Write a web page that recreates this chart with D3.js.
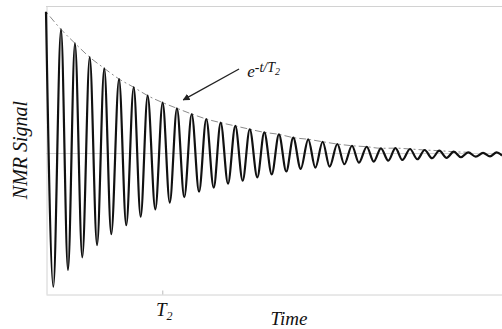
<!DOCTYPE html>
<html>
<head>
<meta charset="utf-8">
<script src="https://cdn.jsdelivr.net/npm/d3@7"></script>
<style>
  body { margin: 0; background: #fff; }
  svg text { font-family: "Liberation Serif", "Times New Roman", Times, "DejaVu Serif", "Noto Serif", serif; font-style: italic; fill: #111; }
</style>
</head>
<body>
<script>
// time in units of T2, signal normalised to the first peak
var extremaT = [0, 0.063, 0.129, 0.189, 0.249, 0.312, 0.376, 0.439, 0.501, 0.561,
  0.628, 0.690, 0.754, 0.814, 0.874, 0.940, 1.003, 1.064, 1.126, 1.189,
  1.253, 1.316, 1.378, 1.442, 1.502, 1.565, 1.628, 1.691, 1.752, 1.817,
  1.877, 1.941, 2.003, 2.066, 2.126, 2.190, 2.255, 2.316, 2.379, 2.439,
  2.505, 2.565, 2.631, 2.691, 2.758, 2.818, 2.880, 2.943, 3.005, 3.064,
  3.130, 3.193, 3.256, 3.319, 3.382, 3.445, 3.506, 3.568, 3.631, 3.695,
  3.758, 3.818, 3.875, 3.921];
var extremaV = [1.000, -0.933, 0.876, -0.815, 0.778, -0.726, 0.680, -0.640, 0.602, -0.564,
  0.527, -0.501, 0.469, -0.441, 0.410, -0.389, 0.361, -0.342, 0.321, -0.304,
  0.281, -0.265, 0.246, -0.237, 0.220, -0.209, 0.197, -0.188, 0.174, -0.164,
  0.152, -0.143, 0.138, -0.123, 0.115, -0.105, 0.103, -0.096, 0.086, -0.089,
  0.070, -0.072, 0.058, -0.061, 0.051, -0.054, 0.040, -0.047, 0.041, -0.042,
  0.035, -0.037, 0.028, -0.030, 0.023, -0.027, 0.016, -0.023, 0.012, -0.019,
  0.008, -0.017, 0.011, -0.011];
var tickT = [1];
var tickLabels = ['T', '2'];
var xTitle = 'Time';
var yTitle = 'NMR Signal';
var envLabel = ['e', '-t/T', '2'];
// envelope annotation: arrow tail/head and label anchor (data units)
var arrowFrom = [1.66, 0.597];
var arrowTo = [1.18, 0.38];
var labelAt = [1.73, 0.54];

var width = 502, height = 329;
var plotLeft = 46, plotRight = 502, plotTop = 6, plotBottom = 294;

var svg = d3.select('body').append('svg')
  .attr('width', width)
  .attr('height', height);

var x = d3.scaleLinear().domain([0, 3.921]).range([plotLeft, plotRight]);
var y = d3.scaleLinear().domain([-0.984, 1.040]).range([plotBottom, plotTop]);

var points = extremaT.map(function (t, i) { return [t, extremaV[i]]; });
// envelope runs through the positive peaks
var peaks = points.filter(function (p, i) { return i % 2 === 0 && p[0] < 3.7 && i < points.length - 1; });

var grey = '#d2d2d2';
var serif = '"Liberation Serif", "Times New Roman", Times, "DejaVu Serif", serif';

// frame
svg.append('line')
  .attr('x1', plotLeft).attr('x2', plotRight)
  .attr('y1', plotTop + 0.5).attr('y2', plotTop + 0.5)
  .attr('stroke', grey);

svg.append('g')
  .attr('transform', 'translate(0,' + (plotBottom + 0.5) + ')')
  .call(d3.axisBottom(x).tickValues(tickT).tickSize(-4).tickSizeOuter(0).tickFormat(''))
  .call(function (g) {
    g.select('.domain').attr('stroke', grey);
    g.selectAll('.tick line').attr('stroke', '#bbb');
  });

svg.append('g')
  .attr('transform', 'translate(' + (plotLeft + 0.5) + ',0)')
  .call(d3.axisLeft(y).tickValues([]).tickSizeOuter(0))
  .call(function (g) { g.select('.domain').attr('stroke', grey); });

// zero line
svg.append('line')
  .attr('x1', plotLeft).attr('x2', plotRight)
  .attr('y1', Math.round(y(0)) - 0.5).attr('y2', Math.round(y(0)) - 0.5)
  .attr('stroke', grey);

// envelope
svg.append('path')
  .datum(peaks)
  .attr('fill', 'none')
  .attr('stroke', '#8a8a8a')
  .attr('stroke-width', 1)
  .attr('stroke-dasharray', '7,3,2,3')
  .attr('stroke-dashoffset', -6)
  .attr('d', d3.line()
    .x(function (d) { return x(d[0]); })
    .y(function (d) { return y(d[1]); })
    .curve(d3.curveMonotoneX));

// signal
svg.append('path')
  .datum(points)
  .attr('fill', 'none')
  .attr('stroke', '#111')
  .attr('stroke-width', 2.2)
  .attr('stroke-linejoin', 'round')
  .attr('d', d3.line()
    .x(function (d) { return x(d[0]); })
    .y(function (d) { return y(d[1]); })
    .curve(d3.curveMonotoneX));

// arrow
svg.append('defs').append('marker')
  .attr('id', 'head')
  .attr('viewBox', '0 0 10 10')
  .attr('refX', 9).attr('refY', 5)
  .attr('markerWidth', 7).attr('markerHeight', 7)
  .attr('markerUnits', 'userSpaceOnUse')
  .attr('orient', 'auto')
  .append('path')
  .attr('d', 'M0,0L10,5L0,10z')
  .attr('fill', '#222');

svg.append('line')
  .attr('x1', x(arrowFrom[0])).attr('y1', y(arrowFrom[1]))
  .attr('x2', x(arrowTo[0])).attr('y2', y(arrowTo[1]))
  .attr('stroke', '#222')
  .attr('stroke-width', 1.3)
  .attr('marker-end', 'url(#head)');

var lab = svg.append('text')
  .attr('font-family', serif)
  .attr('x', x(labelAt[0]))
  .attr('y', y(labelAt[1]));
lab.append('tspan').attr('font-size', 17).text(envLabel[0]);
lab.append('tspan').attr('font-size', 14).attr('dy', -5).text(envLabel[1]);
lab.append('tspan').attr('font-size', 10).attr('dy', 2.5).text(envLabel[2]);

// axis titles
var tl = svg.append('text')
  .attr('font-family', serif)
  .attr('x', x(tickT[0]) + 2)
  .attr('y', 316)
  .attr('text-anchor', 'middle');
tl.append('tspan').attr('font-size', 19).text(tickLabels[0]);
tl.append('tspan').attr('font-size', 12).attr('dy', 4).text(tickLabels[1]);

svg.append('text')
  .attr('font-family', serif)
  .attr('x', 289)
  .attr('y', 325)
  .attr('text-anchor', 'middle')
  .attr('font-size', 19)
  .text(xTitle);

svg.append('text')
  .attr('font-family', serif)
  .attr('transform', 'translate(27,150) rotate(-90)')
  .attr('text-anchor', 'middle')
  .attr('font-size', 20)
  .text(yTitle);
</script>
</body>
</html>
